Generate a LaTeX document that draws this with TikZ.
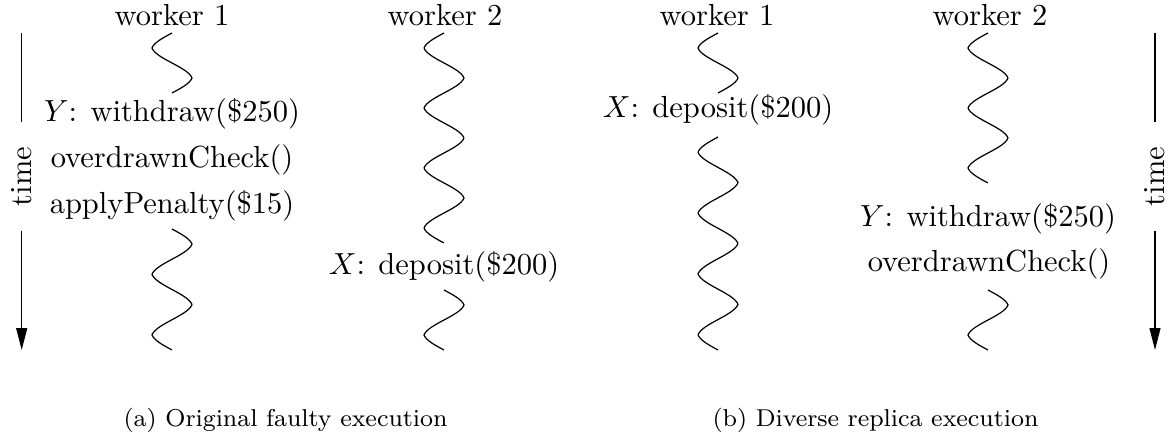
\documentclass[tikz,border=0pt]{standalone}
\usetikzlibrary{calc,arrows.meta}
\newcommand\wavyline[4]{% #1 start, #2 end, #3 periods, #4 = 1 (left first) or -1 (right first)
  \draw[wave] let \p1=(#1), \p2=(#2) in
    plot[domain=0:1, samples=160, smooth, variable=\t]
    ({\x1-6.56pt*(#4)*(0.7*sin(#3*360*\t)+0.3*asin(sin(#3*360*\t))/90)}, {\y1+(\y2-\y1)*\t});
}
\begin{document}
\begin{tikzpicture}[x=0.3279pt,y=-0.3279pt,
  lbl/.style={anchor=base, inner sep=0pt},
  captxt/.style={anchor=base west, inner sep=0pt, font=\footnotesize},
  timelbl/.style={rotate=90, inner xsep=7.83pt, inner ysep=0pt},
  wave/.style={line width=0.4pt},
  timearrow/.style={line width=0.4pt},
  arrowtip/.style={-{Triangle[length=7.2pt,width=3.6pt]}}
]
\useasboundingbox (0,0) rectangle (1169,438);

% ---------- panel (a) ----------
\node[lbl] (aw1) at (172,26) {worker 1};
\node[lbl] (aw2) at (445,26) {worker 2};

\coordinate (a1s) at (172,33);  \coordinate (a1e) at (172,93);
\node[lbl] (aY)   at (172,122) {$Y$: withdraw(\$250)};
\node[lbl] (aOC)  at (172,168) {overdrawnCheck()};
\node[lbl] (aAP)  at (172,214) {applyPenalty(\$15)};
\coordinate (a2s) at (172,229); \coordinate (a2e) at (172,350);
\wavyline{a1s}{a1e}{1}{1}
\wavyline{a2s}{a2e}{2}{-1}

\coordinate (a3s) at (444,33);  \coordinate (a3e) at (444,243);
\node[lbl] (aX)   at (444,275) {$X$: deposit(\$200)};
\coordinate (a4s) at (444,290); \coordinate (a4e) at (444,350);
\wavyline{a3s}{a3e}{3.5}{1}
\wavyline{a4s}{a4e}{1}{-1}

% time arrow (left)
\coordinate (tLtop) at (21.7,33); \coordinate (tLbot) at (21.7,350);
\node[timelbl] (tL) at (21.7,176.5) {time};
\draw[timearrow] (tLtop) -- (tL.east);
\draw[timearrow,arrowtip] (tL.west) -- (tLbot);

% ---------- panel (b) ----------
\node[lbl] (bw1) at (717,26) {worker 1};
\node[lbl] (bw2) at (990,26) {worker 2};

\coordinate (b1s) at (718,33);  \coordinate (b1e) at (718,93);
\node[lbl] (bX)   at (718,118) {$X$: deposit(\$200)};
\coordinate (b2s) at (718,137); \coordinate (b2e) at (718,350);
\wavyline{b1s}{b1e}{1}{1}
\wavyline{b2s}{b2e}{3.5}{1}

\coordinate (b3s) at (988,33);  \coordinate (b3e) at (988,183);
\node[lbl] (bY)   at (988,227) {$Y$: withdraw(\$250)};
\node[lbl] (bOC)  at (989,272) {overdrawnCheck()};
\coordinate (b4s) at (988,290); \coordinate (b4e) at (988,350);
\wavyline{b3s}{b3e}{2.5}{1}
\wavyline{b4s}{b4e}{1}{-1}

% time arrow (right)
\coordinate (tRtop) at (1155,33); \coordinate (tRbot) at (1155,350);
\node[timelbl] (tR) at (1155,176.5) {time};
\draw[timearrow] (tRtop) -- (tR.east);
\draw[timearrow,arrowtip] (tR.west) -- (tRbot);

% ---------- captions ----------
\node[captxt] (capA) at (123,427) {(a) Original faulty execution};
\node[captxt] (capB) at (712,427) {(b) Diverse replica execution};
\end{tikzpicture}
\end{document}
